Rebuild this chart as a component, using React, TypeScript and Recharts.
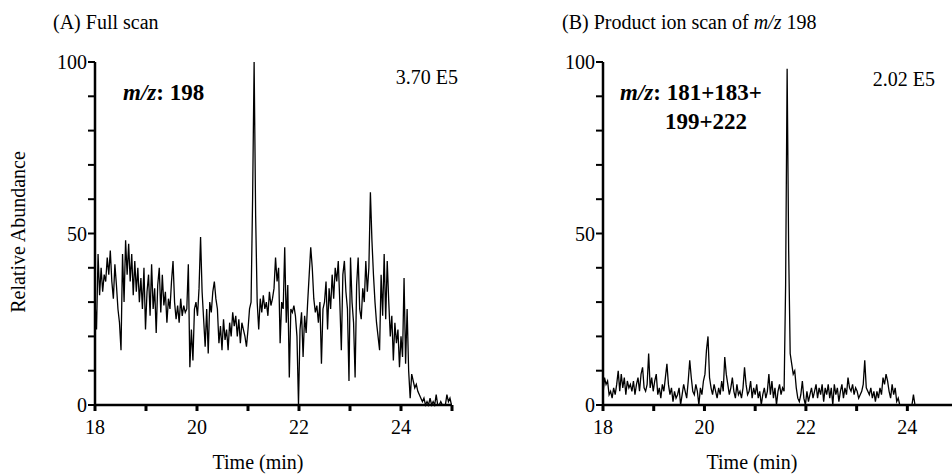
import React from 'react';
import { LineChart, Line, XAxis, YAxis } from 'recharts';

// sampling of both chromatograms: one scan every 0.03 min starting at 18 min
const scanStart = 18;
const scanStep = 0.03;

// (A) full scan, m/z 198 — relative abundance per scan
const fullScanValues = [
  30, 22, 44, 32, 40, 33, 38, 36, 43, 38,
  45, 36, 31, 41, 35, 28, 24, 16, 44, 30,
  48, 38, 47, 36, 44, 32, 42, 33, 40, 30,
  37, 28, 40, 22, 33, 38, 26, 41, 28, 34,
  21, 35, 40, 27, 38, 29, 33, 24, 31, 28,
  36, 42, 30, 25, 29, 24, 31, 26, 29, 27,
  28, 41, 11, 22, 13, 28, 30, 26, 34, 49,
  33, 25, 17, 28, 15, 30, 27, 33, 36, 31,
  28, 18, 23, 16, 25, 19, 22, 16, 24, 20,
  27, 23, 26, 20, 25, 18, 24, 22, 20, 17,
  22, 28, 30, 60, 100, 55, 30, 22, 31, 27,
  32, 28, 30, 26, 33, 29, 31, 34, 43, 36,
  40, 18, 30, 28, 46, 24, 35, 8, 28, 27,
  29, 26, 20, 0, 22, 27, 14, 26, 21, 30,
  38, 46, 40, 31, 27, 29, 24, 30, 12, 28,
  30, 36, 22, 34, 28, 38, 31, 40, 36, 42,
  30, 16, 38, 42, 33, 28, 7, 43, 30, 24,
  8, 35, 43, 28, 25, 34, 30, 42, 33, 40,
  62, 48, 38, 30, 24, 20, 16, 38, 26, 44,
  25, 42, 30, 20, 26, 13, 24, 18, 22, 11,
  20, 14, 37, 12, 28, 10, 2, 9, 7, 5,
  6, 4, 3, 2, 1, 2, 0, 1, 0, 2,
  0, 1, 0, 3, 0, 0, 1, 0, 0, 0, 3, 1, 2, 0,
];

// (B) product ion scan of m/z 198, sum of m/z 181+183+199+222
const productScanValues = [
  3, 8, 6, 7, 3, 4, 2, 5, 3, 6,
  10, 4, 9, 5, 8, 3, 7, 5, 6, 4,
  7, 3, 6, 8, 4, 9, 11, 5, 4, 6,
  15, 5, 8, 4, 7, 9, 3, 5, 2, 6,
  4, 8, 12, 6, 3, 5, 1, 4, 2, 3,
  5, 0, 3, 6, 4, 2, 7, 13, 8, 4,
  3, 6, 4, 0, 5, 3, 7, 9, 16, 20,
  8, 5, 3, 6, 4, 2, 5, 3, 7, 4,
  14, 9, 6, 3, 5, 8, 4, 2, 6, 3,
  4, 2, 5, 11, 6, 3, 4, 7, 2, 5,
  3, 6, 2, 4, 0, 3, 5, 2, 4, 9,
  3, 7, 2, 5, 0, 4, 6, 3, 5, 4,
  35, 98, 45, 15, 12, 9, 10, 5, 2, 1,
  3, 7, 2, 0, 4, 1, 3, 5, 2, 4,
  6, 2, 5, 3, 6, 1, 5, 3, 6, 2,
  5, 0, 6, 3, 5, 1, 4, 6, 2, 5,
  3, 8, 5, 4, 6, 3, 5, 4, 2, 3,
  4, 6, 13, 5, 4, 3, 5, 2, 4, 1,
  4, 2, 5, 3, 8, 6, 9, 7, 4, 2,
  6, 3, 5, 1, 2, 0, 0, 0, 0, 0,
  0, 0, 0, 0, 3, 0,
];

const fullScanTicks = [18, 19, 20, 21, 22, 23, 24, 25];
const productScanTicks = [18, 19, 20, 21, 22, 23, 24];
const abundanceTicks = [0, 10, 20, 30, 40, 50, 60, 70, 80, 90, 100];
const labelledTimes = [18, 20, 22, 24];
const labelledAbundance = [0, 50, 100];

const toRows = (values: number[]) =>
  values.map((v, i) => ({ t: +(scanStart + i * scanStep).toFixed(2), v }));

const fullScanData = toRows(fullScanValues);
const productScanData = toRows(productScanValues);

const FONT = "'Liberation Serif', 'Times New Roman', serif";
const tickText = { fill: '#000', fontSize: 20, fontFamily: FONT };
const boldText = { fontFamily: FONT, fontWeight: 700 } as const;

function Chromatogram({
  data,
  width,
  yAxisWidth,
  rightMargin,
  domainEnd,
  ticks,
}: {
  data: { t: number; v: number }[];
  width: number;
  yAxisWidth: number;
  rightMargin: number;
  domainEnd: number;
  ticks: number[];
}) {
  return (
    <LineChart width={width} height={475} data={data} margin={{ top: 62, right: rightMargin, bottom: 0, left: 0 }}>
      <XAxis
        type="number"
        dataKey="t"
        domain={[18, domainEnd]}
        ticks={ticks}
        interval={0}
        allowDataOverflow
        height={70}
        tickSize={6}
        tickMargin={9}
        tickFormatter={(v: number) => (labelledTimes.includes(v) ? String(v) : '')}
        axisLine={{ stroke: '#000', strokeWidth: 2.5 }}
        tickLine={{ stroke: '#000', strokeWidth: 3 }}
        tick={tickText}
      />
      <YAxis
        type="number"
        domain={[0, 100]}
        ticks={abundanceTicks}
        interval={0}
        width={yAxisWidth}
        tickSize={7}
        tickMargin={1}
        tickFormatter={(v: number) => (labelledAbundance.includes(v) ? String(v) : '')}
        axisLine={{ stroke: '#000', strokeWidth: 2.5 }}
        tickLine={{ stroke: '#000', strokeWidth: 2 }}
        tick={tickText}
      />
      <Line type="linear" dataKey="v" stroke="#000" strokeWidth={1.3} dot={false} isAnimationActive={false} />
    </LineChart>
  );
}

export default function App() {
  return (
    <div
      style={{
        position: 'absolute',
        left: 0,
        top: 0,
        width: 952,
        height: 475,
        background: '#fff',
        overflow: 'hidden',
        fontFamily: FONT,
      }}
    >
      <div style={{ position: 'absolute', left: 0, top: 0 }}>
        <Chromatogram data={fullScanData} width={480} yAxisWidth={95} rightMargin={28} domainEnd={25} ticks={fullScanTicks} />
      </div>
      <div style={{ position: 'absolute', left: 480, top: 0 }}>
        <Chromatogram data={productScanData} width={472} yAxisWidth={123} rightMargin={0} domainEnd={24.88} ticks={productScanTicks} />
      </div>
      <svg
        width={952}
        height={475}
        style={{ position: 'absolute', left: 0, top: 0, pointerEvents: 'none', fontFamily: FONT }}
        fill="#000"
      >
        <text x={53} y={29} fontSize={20}>(A) Full scan</text>
        <text x={562} y={29} fontSize={20}>
          (B) Product ion scan of <tspan fontStyle="italic">m/z</tspan> 198
        </text>
        <text x={0} y={0} fontSize={20} textAnchor="middle" transform="translate(25 232) rotate(-90)">Relative Abundance</text>
        <text x={258} y={469} fontSize={20} textAnchor="middle">Time (min)</text>
        <text x={752} y={469} fontSize={20} textAnchor="middle">Time (min)</text>
        <text x={123} y={100} fontSize={23} style={boldText}>
          <tspan fontStyle="italic">m/z</tspan>: 198
        </text>
        <text x={458} y={84} fontSize={20} textAnchor="end">3.70 E5</text>
        <text x={620} y={100} fontSize={23} style={boldText}>
          <tspan fontStyle="italic">m/z</tspan>: 181+183+
        </text>
        <text x={706} y={129} fontSize={23} textAnchor="middle" style={boldText}>199+222</text>
        <text x={935} y={86} fontSize={20} textAnchor="end">2.02 E5</text>
      </svg>
    </div>
  );
}
